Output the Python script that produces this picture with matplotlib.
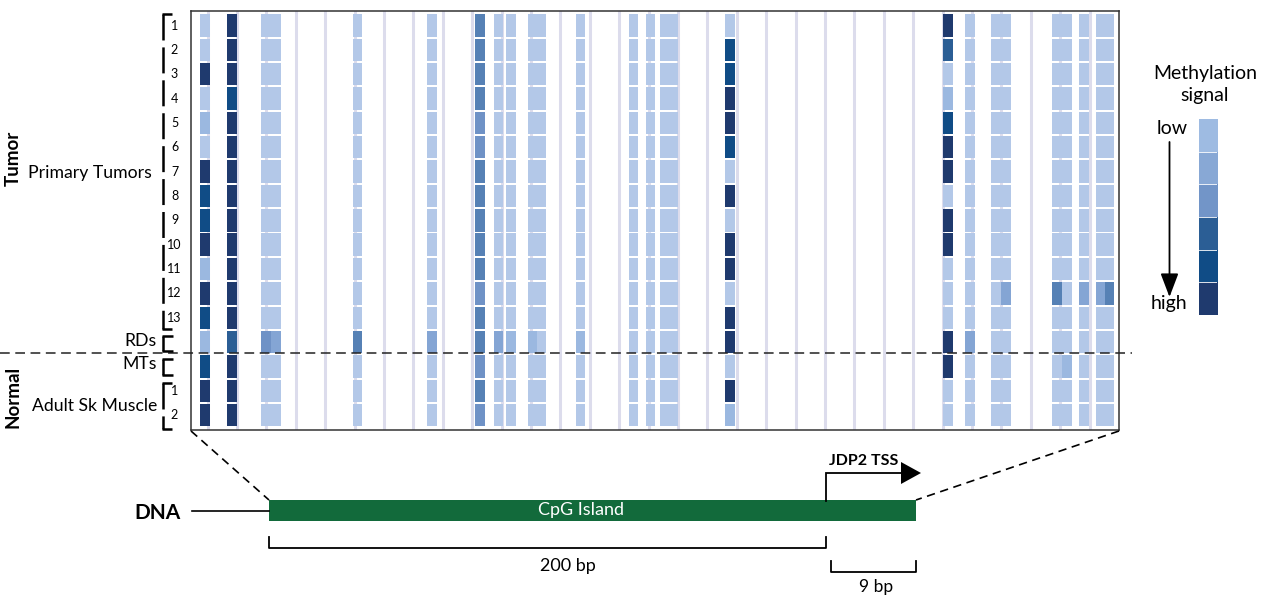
import numpy as np
import matplotlib
matplotlib.use("Agg")
import matplotlib.pyplot as plt
from matplotlib.colors import ListedColormap

plt.rcParams['font.family'] = ['Lato', 'DejaVu Sans']
plt.rcParams['lines.scale_dashes'] = False

# ---------------- data ----------------
sample_groups = ['Primary Tumors', 'RDs', 'MTs', 'Adult Sk Muscle']
sample_numbers = ['1', '2', '3', '4', '5', '6', '7', '8', '9', '10', '11', '12', '13',
                  '', '', '1', '2']
# CpG site positions (bp, relative to heatmap start)
cpg_pos = [-1.0, 8.3, 19.8, 23.2, 51.0, 76.4, 92.7, 98.9, 103.1, 110.6, 113.5, 126.8,
           144.8, 150.6, 155.4, 158.4, 177.7, 251.9, 259.3, 268.2, 271.5, 288.9,
           292.2, 298.1, 303.9, 306.8]
# reference ticks every 10 bp
ref_ticks = list(range(0, 310, 10))
# methylation class per sample (rows) and CpG (cols): 0 = lowest .. 7 = highest
methylation = [
    [0, 7, 0, 0, 0, 0, 4, 0, 0, 0, 0, 0, 0, 0, 0, 0, 0, 7, 0, 0, 0, 0, 0, 0, 0, 0],
    [0, 7, 0, 0, 0, 0, 4, 0, 0, 0, 0, 0, 0, 0, 0, 0, 6, 5, 0, 0, 0, 0, 0, 0, 0, 0],
    [7, 7, 0, 0, 0, 0, 4, 0, 0, 0, 0, 0, 0, 0, 0, 0, 6, 0, 0, 0, 0, 0, 0, 0, 0, 0],
    [0, 6, 0, 0, 0, 0, 4, 0, 0, 0, 0, 0, 0, 0, 0, 0, 7, 1, 0, 0, 0, 0, 0, 0, 0, 0],
    [1, 7, 0, 0, 0, 0, 3, 0, 0, 0, 0, 0, 0, 0, 0, 0, 7, 6, 0, 0, 0, 0, 0, 0, 0, 0],
    [0, 7, 0, 0, 0, 0, 3, 0, 0, 0, 0, 0, 0, 0, 0, 0, 6, 7, 0, 0, 0, 0, 0, 0, 0, 0],
    [7, 7, 0, 0, 0, 0, 4, 0, 0, 0, 0, 0, 0, 0, 0, 0, 0, 7, 0, 0, 0, 0, 0, 0, 0, 0],
    [6, 7, 0, 0, 0, 0, 4, 0, 0, 0, 0, 0, 0, 0, 0, 0, 7, 0, 0, 0, 0, 0, 0, 0, 0, 0],
    [6, 7, 0, 0, 0, 0, 4, 0, 0, 0, 0, 0, 0, 0, 0, 0, 0, 7, 0, 0, 0, 0, 0, 0, 0, 0],
    [7, 7, 0, 0, 0, 0, 4, 0, 0, 0, 0, 0, 0, 0, 0, 0, 7, 7, 0, 0, 0, 0, 0, 0, 0, 0],
    [1, 7, 0, 0, 0, 0, 4, 0, 0, 0, 0, 0, 0, 0, 0, 0, 7, 0, 0, 0, 0, 0, 0, 0, 0, 0],
    [7, 7, 0, 0, 0, 0, 3, 0, 0, 0, 0, 0, 0, 0, 0, 0, 0, 0, 0, 0, 2, 4, 0, 2, 2, 4],
    [6, 7, 0, 0, 0, 0, 4, 0, 0, 0, 0, 0, 0, 0, 0, 0, 7, 0, 0, 0, 0, 0, 0, 0, 0, 0],
    [1, 5, 3, 2, 4, 2, 4, 2, 1, 1, 0, 1, 0, 0, 0, 0, 7, 7, 2, 0, 0, 0, 0, 0, 0, 0],
    [6, 7, 0, 0, 0, 0, 3, 0, 0, 0, 0, 0, 0, 0, 0, 0, 0, 7, 0, 0, 0, 0, 1, 0, 0, 0],
    [7, 7, 0, 0, 0, 0, 4, 0, 0, 0, 0, 0, 0, 0, 0, 0, 7, 0, 0, 0, 0, 0, 0, 0, 0, 0],
    [7, 7, 0, 0, 0, 0, 3, 0, 0, 0, 0, 0, 0, 0, 0, 0, 1, 0, 0, 0, 0, 0, 0, 0, 0, 0],
]
legend_levels = [0, 1, 2, 3, 4, 5]
# ---------------- styles ----------------
palette = ['#b3c8e8', '#9bb8e0', '#84a5d4', '#6f92c6', '#5681b5', '#2b5e95', '#104c86', '#1f3a6e']
legend_colors = ['#9ebbe2', '#88a8d5', '#7295c8', '#2b5e95', '#104c86', '#1f3a6e']

W, H = 1269, 596
fig = plt.figure(figsize=(W / 100, H / 100), dpi=100)

def fig_rect(x0, y0, x1, y1):
    return [x0 / W, 1 - y1 / H, (x1 - x0) / W, (y1 - y0) / H]

# ---------------- heatmap ----------------
ax = fig.add_axes(fig_rect(191, 11, 1119, 430))
meth = np.array(methylation)
n_rows, n_sites = meth.shape
for t in ref_ticks:
    ax.axvline(t, color='#dcdcec', lw=2.2, zorder=1)
for r in range(n_rows):
    ax.bar(cpg_pos, [0.92] * n_sites, bottom=r - 0.46, width=3.3,
           color=[palette[v] for v in meth[r]], linewidth=0, zorder=2)
ax.set_xlim(-5.68, 310)
ax.set_ylim(16.61, -0.594)
ax.set_xticks([])
ax.set_yticks([])
for s in ax.spines.values():
    s.set_color('#333333')
    s.set_linewidth(1.1)

# ---------------- legend ----------------
lax = fig.add_axes(fig_rect(1199, 119, 1217.3, 315))
lax.imshow(np.array(legend_levels)[:, None], cmap=ListedColormap(legend_colors),
           aspect='auto', interpolation='nearest', vmin=-0.5, vmax=5.5)
for k in range(1, len(legend_levels)):
    lax.axhline(k - 0.5, color='white', lw=0.6)
lax.set_axis_off()

# ---------------- overlay annotations (pixel coords) ----------------
ov = fig.add_axes([0, 0, 1, 1], zorder=5)
ov.set_xlim(0, W)
ov.set_ylim(H, 0)
ov.set_axis_off()
ov.patch.set_alpha(0)

k = 'black'
# horizontal tumor/normal separator
ov.plot([0, 1132], [353, 353], color='#222222', lw=1.1, ls=(0, (7, 4)))

# group labels
ov.text(13, 158, 'Tumor', rotation=90, fontsize=13.5, fontweight='bold', ha='center', va='center')
ov.text(13, 397, 'Normal', rotation=90, fontsize=13.5, fontweight='bold', ha='center', va='center')
ov.text(152, 173, sample_groups[0], fontsize=12.7, ha='right', va='center')
ov.text(157, 341, sample_groups[1], fontsize=12.7, ha='right', va='center')
ov.text(157, 364, sample_groups[2], fontsize=12.7, ha='right', va='center')
ov.text(157, 406, sample_groups[3], fontsize=12.7, ha='right', va='center')

row_y = lambda r: 24.5 + r * 24.35
for r, lab in enumerate(sample_numbers):
    if lab:
        ov.text(174.5, row_y(r) + 1, lab, fontsize=9, ha='center', va='center')

def bracket(y0, y1, x=163, dx=8, dashed=False):
    ls = (0, (18.7, 5)) if dashed else '-'
    ov.plot([x, x], [y0, y1], color=k, lw=1.8, ls=ls, solid_capstyle='butt')
    ov.plot([x - 0.9, x + dx], [y0, y0], color=k, lw=1.8, solid_capstyle='butt')
    ov.plot([x - 0.9, x + dx], [y1, y1], color=k, lw=1.8, solid_capstyle='butt')

bracket(14, 329, dashed=True, dx=9)
bracket(336, 351, dx=10)
bracket(359, 375, dx=10)
bracket(383, 429, dashed=True, dx=9)

# legend texts
ov.text(1205, 74, 'Methylation', fontsize=14, ha='center', va='center')
ov.text(1205, 95, 'signal', fontsize=14, ha='center', va='center')
ov.text(1172, 129, 'low', fontsize=14, ha='center', va='center')
ov.text(1169, 304, 'high', fontsize=14, ha='center', va='center')
ov.annotate('', xy=(1169.5, 297), xytext=(1169.5, 142),
            arrowprops=dict(arrowstyle='-|>,head_length=1.45,head_width=0.55',
                            mutation_scale=10, lw=1.3, color=k, shrinkA=0, shrinkB=0))

# zoom lines
ov.plot([191, 269], [431, 500], color=k, lw=1.2, ls=(0, (6, 4)))
ov.plot([1119, 916], [431, 500], color=k, lw=1.2, ls=(0, (6, 4)))

# DNA
ov.text(158, 513, 'DNA', fontsize=15, fontweight='bold', ha='center', va='center')
ov.plot([192, 269], [511, 511], color=k, lw=1.2)
ov.fill([269, 916, 916, 269], [500, 500, 521, 521], color='#126a3b', lw=0)
ov.text(581, 510, 'CpG Island', fontsize=13, color='white', ha='center', va='center')

# TSS arrow
ov.plot([826, 826, 903], [501, 473, 473], color=k, lw=1.3, solid_joinstyle='miter')
ov.fill([901, 921, 901], [462, 473, 484], color=k, lw=0)
ov.text(864, 461, 'JDP2 TSS', fontsize=11.5, fontweight='bold', ha='center', va='center')

# scale brackets
ov.plot([269, 269, 826, 826], [537, 548, 548, 537], color=k, lw=1.3)
ov.text(568, 566, '200 bp', fontsize=13, ha='center', va='center')
ov.plot([831, 831, 916, 916], [561, 572, 572, 561], color=k, lw=1.3)
ov.text(876, 587, '9 bp', fontsize=12.5, ha='center', va='center')

fig.savefig('out.png', dpi=100)
